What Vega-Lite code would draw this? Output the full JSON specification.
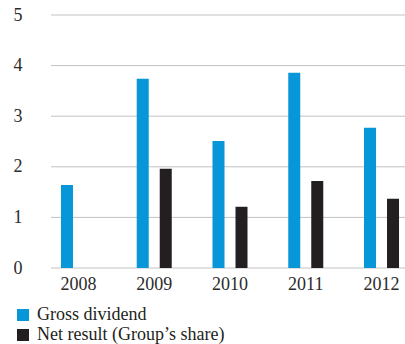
{
  "$schema": "https://vega.github.io/schema/vega-lite/v6.json",
  "width": 354,
  "height": 253,
  "autosize": {"type": "none"},
  "padding": {"left": 51, "top": 15, "right": 0, "bottom": 76},
  "background": "white",
  "datasets": {
    "bars": [
      {"year": "2008", "series": "Gross dividend", "value": 1.64},
      {"year": "2009", "series": "Gross dividend", "value": 3.74},
      {"year": "2009", "series": "Net result (Group’s share)", "value": 1.96},
      {"year": "2010", "series": "Gross dividend", "value": 2.51},
      {"year": "2010", "series": "Net result (Group’s share)", "value": 1.21},
      {"year": "2011", "series": "Gross dividend", "value": 3.86},
      {"year": "2011", "series": "Net result (Group’s share)", "value": 1.72},
      {"year": "2012", "series": "Gross dividend", "value": 2.77},
      {"year": "2012", "series": "Net result (Group’s share)", "value": 1.37}
    ],
    "grid": [{"v": 0}, {"v": 1}, {"v": 2}, {"v": 3}, {"v": 4}, {"v": 5}]
  },
  "layer": [
    {
      "data": {"name": "grid"},
      "mark": {"type": "rule", "color": "#c2c2c2", "strokeWidth": 1},
      "encoding": {
        "y": {"field": "v", "type": "quantitative", "scale": {"domain": [0, 5], "nice": false}}
      }
    },
    {
      "data": {"name": "bars"},
      "mark": {"type": "bar"},
      "encoding": {
        "x": {
          "field": "year",
          "type": "nominal",
          "scale": {"range": [-10.4, 368.4], "paddingInner": 0, "paddingOuter": 0},
          "axis": {
            "title": null,
            "labelAngle": 0,
            "domain": false,
            "ticks": false,
            "labelPadding": 7,
            "labelFont": "Liberation Serif",
            "labelFontSize": 18,
            "labelColor": "#2b2b2b"
          }
        },
        "xOffset": {
          "field": "series",
          "type": "nominal",
          "scale": {"domain": ["Gross dividend", "Net result (Group’s share)"], "paddingInner": 0.478, "paddingOuter": 0.886}
        },
        "y": {
          "field": "value",
          "type": "quantitative",
          "scale": {"domain": [0, 5], "nice": false},
          "axis": {
            "title": null,
            "values": [0, 1, 2, 3, 4, 5],
            "domain": false,
            "ticks": false,
            "grid": false,
            "labelPadding": 29,
            "labelFont": "Liberation Serif",
            "labelFontSize": 18,
            "labelColor": "#2b2b2b"
          }
        },
        "color": {
          "field": "series",
          "type": "nominal",
          "scale": {"domain": ["Gross dividend", "Net result (Group’s share)"], "range": ["#0796d8", "#231f20"]},
          "legend": {
            "title": null,
            "orient": "none",
            "legendX": -37,
            "legendY": 291,
            "direction": "vertical",
            "symbolType": "square",
            "symbolSize": 144,
            "symbolStrokeWidth": 0,
            "symbolOpacity": 1,
            "labelFont": "Liberation Serif",
            "labelFontSize": 18,
            "labelColor": "#231f20",
            "labelOffset": 5,
            "labelLimit": 400,
            "rowPadding": 2,
            "padding": 0
          }
        }
      }
    }
  ],
  "config": {"view": {"stroke": null}}
}
